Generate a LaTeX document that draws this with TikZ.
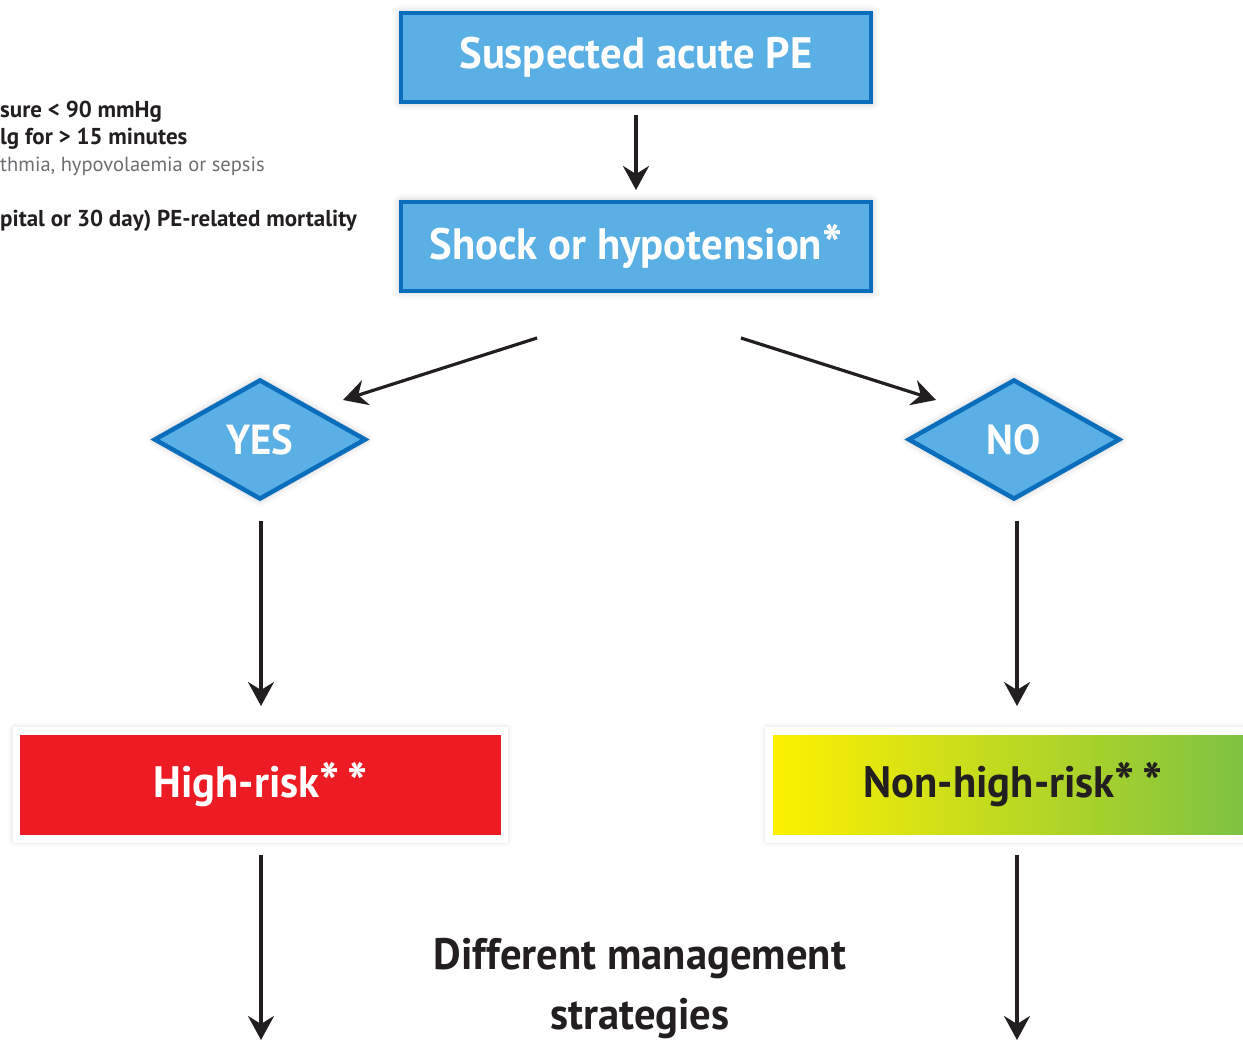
\documentclass[tikz,border=0pt]{standalone}
\usepackage{fontspec}
\setmainfont{PT Sans}
\newfontfamily\condfont[FakeStretch=0.97]{PT Sans}
\usetikzlibrary{shapes.geometric,arrows.meta,shadows.blur}
\definecolor{boxblue}{HTML}{5AB0E4}
\definecolor{borderblue}{HTML}{0A6EBD}
\definecolor{riskred}{HTML}{ED1C24}
\definecolor{riskyellow}{HTML}{FFF100}
\definecolor{riskgreen}{HTML}{7AC143}
\definecolor{inkdark}{HTML}{231F20}
\definecolor{inkgray}{HTML}{6D6E71}
\newcommand{\bigast}{\raisebox{-0.12em}{\scalebox{1.25}{*}}}
\tikzset{
  softshadow/.style={blur shadow={shadow xshift=0pt,shadow yshift=0pt,shadow blur radius=8pt,shadow opacity=30}},
  bluebox/.style={draw=borderblue,fill=boxblue,line width=4pt,minimum width=470pt,minimum height=89pt,inner sep=0pt,text=white,font=\condfont\bfseries\fontsize{44}{48}\selectfont,softshadow},
  bluediamond/.style={diamond,draw=borderblue,fill=boxblue,line width=4.5pt,minimum width=212pt,minimum height=120pt,aspect=1.75,inner sep=0pt,text=white,font=\condfont\bfseries\fontsize{42}{46}\selectfont,softshadow},
  riskbox/.style={draw=white,line width=7.5pt,minimum width=488pt,minimum height=108pt,inner sep=0pt,font=\condfont\bfseries\fontsize{44}{48}\selectfont,softshadow},
  flowarrow/.style={draw=inkdark,line width=3.2pt,-{Stealth[length=24pt,width=26pt,inset=8pt]}},
  note/.style={anchor=west,inner sep=0pt,font=\bfseries\fontsize{23}{25}\selectfont,text=inkdark},
}
\begin{document}
\begin{tikzpicture}[x=1pt,y=-1pt]
\useasboundingbox (0,0) rectangle (1243,1042);
% left notes
\node[note] (n1) at (0,112) {sure < 90 mmHg};
\node[note] (n2) at (0,139) {lg for > 15 minutes};
\node[note,text=inkgray,font=\mdseries\fontsize{20.5}{24}\selectfont] (n3) at (0,166) {thmia, hypovolaemia or sepsis};
\node[note] (n4) at (0,221) {pital or 30 day) PE-related mortality};
% boxes
\node[bluebox] (pe) at (636,57.5) {Suspected acute PE};
\node[bluebox] (shock) at (636,246.5) {Shock or hypotension\bigast};
\node[bluediamond] (yes) at (260,439.5) {YES};
\node[bluediamond] (no) at (1014,439.5) {NO};
\node[riskbox,fill=riskred,text=white] (high) at (260.25,784.75) {High-risk\bigast\,\bigast};
\node[riskbox,left color=riskyellow,right color=riskgreen,text=inkdark] (nonhigh) at (1013,784.75) {Non-high-risk\bigast\,\bigast};
\node[align=center,text=inkdark,font=\condfont\bfseries\fontsize{44}{60}\selectfont,inner sep=0pt] (diff) at (640,989) {Different management\\strategies};
% coordinates
\coordinate (sl) at (537,338);
\coordinate (sr) at (741,338);
\coordinate (yl) at (343,400);
\coordinate (nr) at (936,400);
\coordinate (hb) at (261,1040);
\coordinate (nb) at (1017,1040);
% connectors
\draw[flowarrow,shorten <=11pt,shorten >=10pt] (pe.south) -- (shock.north);
\draw[flowarrow] (sl) -- (yl);
\draw[flowarrow] (sr) -- (nr);
\draw[flowarrow,shorten <=19pt,shorten >=21pt] (yes.south -| 261,0) -- (high.north -| 261,0);
\draw[flowarrow,shorten <=19pt,shorten >=21pt] (no.south -| 1017,0) -- (nonhigh.north -| 1017,0);
\draw[flowarrow,shorten <=12pt] (high.south -| hb) -- (hb);
\draw[flowarrow,shorten <=12pt] (nonhigh.south -| nb) -- (nb);
\end{tikzpicture}
\end{document}
